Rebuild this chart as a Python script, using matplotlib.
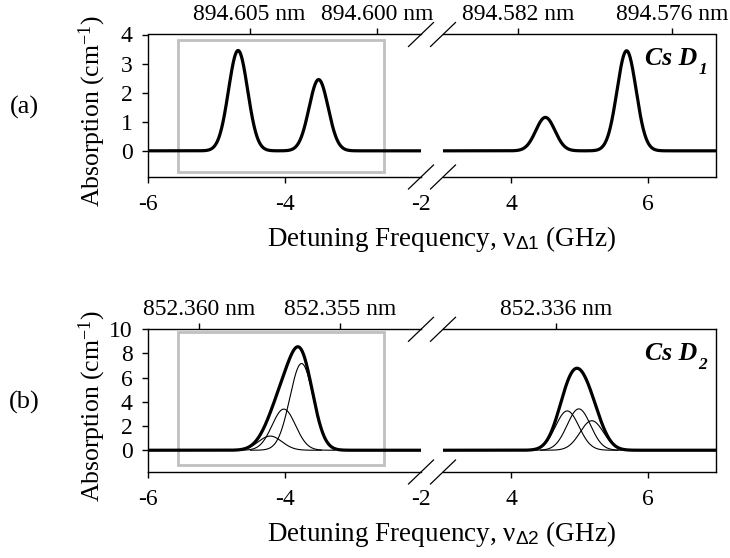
import numpy as np
import matplotlib
matplotlib.use("Agg")
import matplotlib.pyplot as plt
from matplotlib.patches import Rectangle

plt.rcParams['font.family'] = ['Liberation Serif', 'DejaVu Serif']
plt.rcParams['mathtext.fontset'] = 'custom'
plt.rcParams['mathtext.rm'] = 'Liberation Serif'
plt.rcParams['mathtext.it'] = 'Liberation Serif:italic'
plt.rcParams['mathtext.bf'] = 'Liberation Serif:bold'
plt.rcParams['mathtext.sf'] = 'Liberation Sans'

# ---------------- data ----------------
# Cs D1: hyperfine absorption peaks (GHz detuning, cm^-1)
d1_centers = [-4.68, -3.50, 4.50, 5.69]
d1_heights = [3.45, 2.45, 1.15, 3.44]
d1_sigma = 0.14
# Cs D2: hyperfine components (GHz detuning, cm^-1)
d2_centers = [-4.21, -4.01, -3.75, 4.82, 4.99, 5.18]
d2_heights = [1.17, 3.40, 7.17, 3.25, 3.42, 2.44]
d2_sigma = 0.172

# axis ranges / ticks
left_range = (-6, -2)
right_range = (3, 7)
left_xticks = [-6, -4, -2]
right_xticks = [4, 6]
d1_yticks = [0, 1, 2, 3, 4]
d2_yticks = [0, 2, 4, 6, 8, 10]
d1_ylim = (-0.9, 4)
d2_ylim = (-1.8, 10)

# wavelength tick labels (nm) on the top axis
d1_nm_left = [894.605, 894.600]
d1_nm_right = [894.582, 894.576]
d2_nm_left = [852.360, 852.355]
d2_nm_right = [852.336]
nu0_d1 = 335116.05   # GHz, Cs D1 line centre
nu0_d2 = 351725.72   # GHz, Cs D2 line centre
C_GHZ_NM = 2.99792458e8  # c in GHz*nm


def nm_to_det(nm, nu0):
    return C_GHZ_NM / np.asarray(nm) - nu0


def profile(x, centers, heights, sigma):
    return [h * np.exp(-(x - c) ** 2 / (2 * sigma ** 2)) for c, h in zip(centers, heights)]


W, H = 730, 558
fig = plt.figure(figsize=(W / 100, H / 100), dpi=100)


def add_ax(x0, x1, y0, y1):
    return fig.add_axes([x0 / W, 1 - y1 / H, (x1 - x0) / W, (y1 - y0) / H])


TICK_FS = 17
YLAB_FS = 18.5
XLAB_FS = 19.5

panels = [
    dict(y0=34.5, y1=177, centers=d1_centers, heights=d1_heights, sigma=d1_sigma,
         ylim=d1_ylim, yticks=d1_yticks, nm_l=d1_nm_left, nm_r=d1_nm_right, nu0=nu0_d1,
         comps=False, rect=(-5.56, -0.73, 3.02, 4.53), title='Cs D', sub='1',
         letter='(a)'),
    dict(y0=329.3, y1=472, centers=d2_centers, heights=d2_heights, sigma=d2_sigma,
         ylim=d2_ylim, yticks=d2_yticks, nm_l=d2_nm_left, nm_r=d2_nm_right, nu0=nu0_d2,
         comps=True, rect=(-5.56, -1.25, 3.02, 11.0), title='Cs D', sub='2',
         letter='(b)'),
]

for p in panels:
    axL = add_ax(148, 421, p['y0'], p['y1'])
    axR = add_ax(443, 716, p['y0'], p['y1'])
    for ax, rng, xt, nm in ((axL, left_range, left_xticks, p['nm_l']),
                            (axR, right_range, right_xticks, p['nm_r'])):
        x = np.linspace(rng[0], rng[1], 1200)
        comps = profile(x, p['centers'], p['heights'], p['sigma'])
        total = np.sum(comps, axis=0)
        if p['comps']:
            for c, cc in zip(comps, p['centers']):
                if rng[0] <= cc <= rng[1]:
                    m = np.abs(x - cc) < 0.75
                    ax.plot(x[m], c[m], color='black', lw=0.8, zorder=3)
        ax.plot(x, total, color='black', lw=2.3, zorder=4, solid_capstyle='butt')
        ax.set_xlim(rng)
        ax.set_ylim(p['ylim'])
        ax.set_xticks(xt)
        ax.set_xticklabels([f'{v:g}' for v in xt])
        ax.tick_params(axis='x', direction='out', length=4, width=1, labelsize=TICK_FS, pad=8)
        ax.tick_params(axis='y', direction='out', length=4, width=1, labelsize=TICK_FS, pad=7)
        for s in ax.spines.values():
            s.set_linewidth(1.0)
        ax.spines['top'].set_visible(False)
        sec = ax.secondary_xaxis('top')
        sec.set_xticks(nm_to_det(nm, p['nu0']))
        sec.set_xticklabels([f'{v:.3f} nm' for v in nm])
        sec.tick_params(direction='out', length=4, width=1, labelsize=TICK_FS, pad=3)
        sec.spines['top'].set_linewidth(1.0)

    axL.set_yticks(p['yticks'])
    axL.set_yticklabels([str(v) for v in p['yticks']])
    axL.spines['right'].set_visible(False)
    axL.xaxis.get_major_ticks()[-1].tick1line.set_visible(False)
    axR.spines['left'].set_visible(False)
    axR.tick_params(axis='y', left=False, labelleft=False)

    # break marks
    dx, dy = 12.5 / 273, 12 / (p['y1'] - p['y0'])
    for ax, xe in ((axL, 1), (axR, 0)):
        for ye in (0, 1):
            ax.plot([xe - dx, xe + dx], [ye - dy, ye + dy], transform=ax.transAxes,
                    color='black', lw=0.9, clip_on=False, zorder=5)

    # grey highlight box
    rx, ry, rw, rh = p['rect']
    axL.add_patch(Rectangle((rx, ry), rw, rh, fill=False, edgecolor='#c0c0c0', lw=2.0, zorder=2))

    # panel title
    t = axR.text(0.93, 0.91, p['title'], transform=axR.transAxes, ha='right', va='top',
                 fontsize=18.5, fontweight='bold', fontstyle='italic')
    axR.annotate(p['sub'], xy=(1, 0), xycoords=t, xytext=(1, -2.5), textcoords='offset points',
                 ha='left', va='baseline', fontsize=12.5, fontweight='bold', fontstyle='italic')

    yc = (p['y0'] + p['y1']) / 2
    fig.text(92 / W, 1 - (yc + 5) / H, 'Absorption (cm$^{-1}$)', rotation=90,
             ha='center', va='center', fontsize=YLAB_FS)
    fig.text(24 / W, 1 - (yc + 2) / H, p['letter'], ha='center', va='center', fontsize=19)
    fig.text(441 / W, 1 - (p['y1'] + 62) / H,
             'Detuning Frequency, ν$_{\\mathsf{\\Delta ' + p['sub'] + '}}$ (GHz)',
             ha='center', va='center', fontsize=XLAB_FS)

fig.savefig('out.png', dpi=100)
